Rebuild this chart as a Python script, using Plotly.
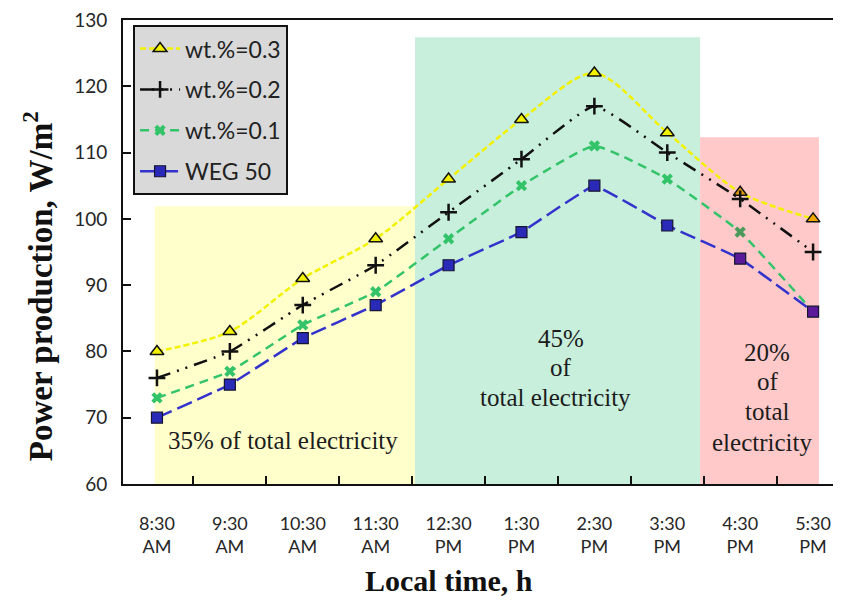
import plotly.graph_objects as go

# ---------------- data ----------------
times = ["8:30<br>AM", "9:30<br>AM", "10:30<br>AM", "11:30<br>AM", "12:30<br>PM",
         "1:30<br>PM", "2:30<br>PM", "3:30<br>PM", "4:30<br>PM", "5:30<br>PM"]
wt03 = [80, 83, 91, 97, 106, 115, 122, 113, 104, 100]
wt02 = [76, 80, 87, 93, 101, 109, 117, 110, 103, 95]
wt01 = [73, 77, 84, 89, 97, 105, 111, 106, 98, 86]
weg50 = [70, 75, 82, 87, 93, 98, 105, 99, 94, 86]
series_names = ["wt.%=0.3", "wt.%=0.2", "wt.%=0.1", "WEG 50"]
y_ticks = [60, 70, 80, 90, 100, 110, 120, 130]

# shaded periods (category-index span, top value)
period_morning = (-0.03, 3.54, 101.9)
period_noon = (3.54, 7.45, 127.4)
period_evening = (7.45, 9.08, 112.3)

# period labels: (text, x in category index, y value)
period_labels = [
    ("35% of total electricity", 1.73, 66.5),
    ("45%", 5.54, 81.9), ("of", 5.54, 77.65), ("total electricity", 5.47, 73.1),
    ("20%", 8.37, 79.8), ("of", 8.38, 75.4), ("total", 8.37, 70.9), ("electricity", 8.30, 66.3),
]

fig = go.Figure()

serif = "Liberation Serif, Times New Roman, serif"
sans = "Lato, Carlito, Calibri, sans-serif"

# marker colours in the pink region look multiplied by the pink fill
tri_cols = ["#f2f200"] * 8 + ["#e09a10", "#f0a800"]
sq_cols = ["#2a2ab8"] * 8 + ["#5a1a9a", "#5a1a9a"]
x_cols = ["#33c46a"] * 8 + ["#4a9a5a", "#4a9a5a"]

fig.add_trace(go.Scatter(
    x=times, y=wt03, name=series_names[0], legendgroup="a",
    mode="lines+markers",
    line=dict(color="#f2f200", width=2.5, dash="6px,3px", shape="spline", smoothing=0.8),
    marker=dict(symbol="triangle-up", size=12, color=tri_cols, line=dict(color="#111111", width=1.5)),
))
fig.add_trace(go.Scatter(
    x=times, y=wt02, name=series_names[1], legendgroup="b",
    mode="lines+markers",
    line=dict(color="#111111", width=2.5, dash="14px,7px,2px,7px,2px,7px", shape="spline", smoothing=0.4),
    marker=dict(symbol="cross-thin", size=12, color="#111111", line=dict(color="#111111", width=2.5)),
))
fig.add_trace(go.Scatter(
    x=times, y=wt01, name=series_names[2], legendgroup="c",
    mode="lines+markers",
    line=dict(color="#33c46a", width=2.5, dash="9px,6px", shape="spline", smoothing=0.4),
    marker=dict(symbol="x", size=10, color=x_cols, line=dict(width=0)),
))
fig.add_trace(go.Scatter(
    x=times, y=weg50, name=series_names[3], legendgroup="d",
    mode="lines+markers",
    line=dict(color="#3333cc", width=2.5, dash="16px,6px", shape="spline", smoothing=0.2),
    marker=dict(symbol="square", size=11, color=sq_cols, line=dict(color="#151530", width=1.2)),
))

for (x0, x1, top), col in [(period_morning, "#ffffcc"), (period_noon, "#c8eedc"), (period_evening, "#ffc9c9")]:
    fig.add_shape(type="rect", xref="x", yref="y", x0=x0, x1=x1, y0=60, y1=top,
                  fillcolor=col, line=dict(width=0), layer="below")

txt = "#1c1c1c"
for text, xv, yv in period_labels:
    fig.add_annotation(x=xv, y=yv, xref="x", yref="y", text=text, showarrow=False,
                       xanchor="center", yanchor="middle",
                       font=dict(family=serif, size=25, color=txt))

# axis titles
fig.add_annotation(x=-0.118, y=0.427, xref="paper", yref="paper",
                   text="<b>Power production, W/m<sup>2</sup></b>",
                   textangle=-90, showarrow=False, xanchor="center", yanchor="middle",
                   font=dict(family=serif, size=33, color="#111111"))
fig.add_annotation(x=0.454, y=-0.207, xref="paper", yref="paper", text="<b>Local time, h</b>",
                   showarrow=False, xanchor="center", yanchor="middle",
                   font=dict(family=serif, size=30, color="#111111"))

fig.update_layout(
    width=833, height=602,
    margin=dict(l=115, r=0, t=12, b=126),
    paper_bgcolor="white", plot_bgcolor="white",
    showlegend=True,
    legend=dict(x=0.014, y=0.989, xanchor="left", yanchor="top",
                bgcolor="#d9d9d9", bordercolor="#111111", borderwidth=2,
                font=dict(family=sans, size=23, color="#222222"),
                tracegroupgap=8, itemwidth=40),
    xaxis=dict(type="category", categoryorder="array", categoryarray=times,
               range=[-0.466, 9.383], showline=True, linecolor="#111111", linewidth=2,
               mirror=True, ticks="inside", tickson="boundaries", ticklen=8, tickwidth=2,
               tickcolor="#111111", showgrid=False, zeroline=False,
               tickfont=dict(family=sans, size=18, color="#262626"), ticklabelstandoff=22),
    yaxis=dict(range=[60, 130], tickvals=y_ticks, showline=True, linecolor="#111111", linewidth=2,
               ticks="inside", ticklen=8, tickwidth=2, tickcolor="#111111",
               showgrid=False, zeroline=False, ticklabeloverflow="allow",
               tickfont=dict(family=sans, size=19, color="#262626"), ticklabelstandoff=10),
)

fig.write_html("out.html")
